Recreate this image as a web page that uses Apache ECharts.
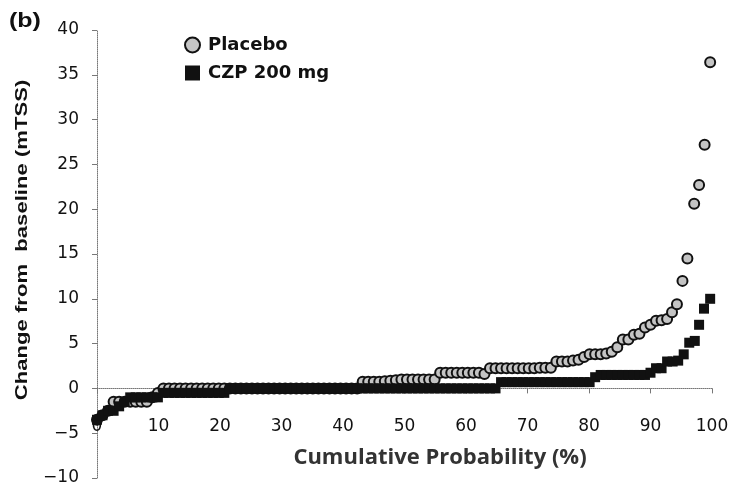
<!DOCTYPE html>
<html>
<head>
<meta charset="utf-8">
<style>html,body{margin:0;padding:0;background:#fff}#c{width:742px;height:487px}</style>
<script src="https://cdn.jsdelivr.net/npm/echarts@6/dist/echarts.min.js"></script>
</head>
<body>
<div id="c"></div>
<script>
// Cumulative probability (%) and change from baseline (mTSS)
var placeboX = [
  0,0.9,1.8,2.7,3.6,4.5,5.4,6.3,7.2,8.1,
  9.0,9.9,10.8,11.7,12.6,13.5,14.4,15.3,16.2,17.1,
  18.0,18.9,19.8,20.7,21.6,22.5,23.4,24.3,25.2,26.1,
  27.0,27.9,28.8,29.7,30.6,31.5,32.4,33.3,34.2,35.1,
  36.0,36.9,37.8,38.7,39.6,40.5,41.4,42.3,43.2,44.1,
  45.0,45.9,46.8,47.7,48.6,49.5,50.4,51.3,52.2,53.1,
  54.0,54.9,55.8,56.7,57.6,58.5,59.4,60.3,61.2,62.1,
  63.0,63.9,64.8,65.7,66.6,67.5,68.4,69.3,70.2,71.1,
  72.0,72.9,73.8,74.7,75.6,76.5,77.4,78.3,79.2,80.1,
  81.0,81.9,82.8,83.7,84.6,85.5,86.4,87.3,88.2,89.1,
  90.0,90.9,91.8,92.7,93.5,94.3,95.2,96.0,97.1,97.9,
  98.8,99.7];
var placeboY = [
  -3.5,-3.0,-2.5,-1.5,-1.5,-1.5,-1.5,-1.5,-1.5,-1.5,
  -1.0,-0.5,0,0,0,0,0,0,0,0,
  0,0,0,0,0,0,0,0,0,0,
  0,0,0,0,0,0,0,0,0,0,
  0,0,0,0,0,0,0,0,0.75,0.75,
  0.75,0.75,0.8,0.85,0.9,1.0,1.0,1.0,1.0,1.0,
  1.0,1.0,1.75,1.75,1.75,1.75,1.75,1.75,1.75,1.75,
  1.6,2.25,2.25,2.25,2.25,2.25,2.25,2.25,2.25,2.25,
  2.3,2.3,2.3,3.0,3.0,3.0,3.1,3.2,3.5,3.8,
  3.8,3.8,3.9,4.1,4.6,5.45,5.45,6.0,6.1,6.8,
  7.1,7.55,7.6,7.75,8.5,9.4,12.0,14.5,20.6,22.7,
  27.2,36.4];
var czpX = [
  0,0.9,1.8,2.7,3.6,4.5,5.4,6.3,7.2,8.1,
  9.0,9.9,10.8,11.7,12.6,13.5,14.4,15.3,16.2,17.1,
  18.0,18.9,19.8,20.7,21.6,22.5,23.4,24.3,25.2,26.1,
  27.0,27.9,28.8,29.7,30.6,31.5,32.4,33.3,34.2,35.1,
  36.0,36.9,37.8,38.7,39.6,40.5,41.4,42.3,43.2,44.1,
  45.0,45.9,46.8,47.7,48.6,49.5,50.4,51.3,52.2,53.1,
  54.0,54.9,55.8,56.7,57.6,58.5,59.4,60.3,61.2,62.1,
  63.0,63.9,64.8,65.7,66.6,67.5,68.4,69.3,70.2,71.1,
  72.0,72.9,73.8,74.7,75.6,76.5,77.4,78.3,79.2,80.1,
  81.0,81.9,82.8,83.7,84.6,85.5,86.4,87.3,88.2,89.1,
  90.0,90.9,91.8,92.7,93.6,94.5,95.4,96.3,97.2,97.9,
  98.7,99.7];
var czpY = [
  -3.5,-3.0,-2.5,-2.5,-2.0,-1.5,-1.0,-1.0,-1.0,-1.0,
  -1.0,-1.0,-0.5,-0.5,-0.5,-0.5,-0.5,-0.5,-0.5,-0.5,
  -0.5,-0.5,-0.5,-0.5,0,0,0,0,0,0,
  0,0,0,0,0,0,0,0,0,0,
  0,0,0,0,0,0,0,0,0,0,
  0,0,0,0,0,0,0,0,0,0,
  0,0,0,0,0,0,0,0,0,0,
  0,0,0,0.7,0.7,0.7,0.7,0.7,0.7,0.7,
  0.7,0.7,0.7,0.7,0.7,0.7,0.7,0.7,0.7,0.7,
  1.25,1.5,1.5,1.5,1.5,1.5,1.5,1.5,1.5,1.5,
  1.75,2.25,2.25,3.0,3.0,3.1,3.8,5.1,5.3,7.1,
  8.9,10.0];
var xTicks = [0,10,20,30,40,50,60,70,80,90,100];
var yTicks = [-10,-5,0,5,10,15,20,25,30,35,40];
var seriesNames = ['Placebo','CZP 200 mg'];

function pairs(xs, ys){ var out=[]; for (var i=0;i<xs.length;i++) out.push([xs[i], ys[i]]); return out; }
function fmt(v){ return v < 0 ? '\u2212' + (-v) : String(v); }

var chart = echarts.init(document.getElementById('c'), null, {renderer:'canvas'});
chart.setOption({
  animation: false,
  backgroundColor: '#fff',
  grid: {left: 97, right: 30, top: 30, bottom: 9, containLabel: false, outerBoundsMode: 'none'},
  xAxis: {
    type: 'value', min: xTicks[0], max: xTicks[xTicks.length-1], interval: 10,
    axisLine: {show: true, onZero: true, lineStyle: {color: '#777', type: 'dotted', width: 1}},
    axisTick: {show: true, inside: false, length: 5, lineStyle: {color: '#777'}},
    axisLabel: {margin: -60, showMinLabel: true, showMaxLabel: true, hideOverlap: false, color: '#111', fontFamily: 'DejaVu Sans', fontSize: 17, formatter: fmt},
    splitLine: {show: false}
  },
  yAxis: {
    type: 'value', min: yTicks[0], max: yTicks[yTicks.length-1], interval: 5,
    axisLine: {show: true, onZero: false, lineStyle: {color: '#777', type: 'dotted', width: 1}},
    axisTick: {show: true, inside: false, length: 5, lineStyle: {color: '#777'}},
    axisLabel: {margin: 18, showMinLabel: true, hideOverlap: false, color: '#111', fontFamily: 'DejaVu Sans', fontSize: 17, formatter: fmt},
    splitLine: {show: false}
  },
  legend: {
    orient: 'vertical', left: 184, top: 36, padding: 0, itemWidth: 15, itemHeight: 15, itemGap: 10,
    data: seriesNames,
    textStyle: {fontFamily: 'DejaVu Sans', fontWeight: 'bold', fontSize: 18, color: '#111', padding: [0,0,0,3]}
  },
  graphic: [
    {type: 'text', x: 9, y: 11, scaleX: 1.25, style: {text: '(b)', font: 'bold 20px "Liberation Sans"', fill: '#111'}},
    {type: 'text', x: 440, y: 458, style: {text: 'Cumulative Probability (%)', font: 'bold 22px "Open Sans"', fill: '#333', textAlign: 'center', textVerticalAlign: 'middle'}},
    {type: 'text', x: 22, y: 240, rotation: Math.PI/2, scaleX: 1.3, style: {text: 'Change from  baseline (mTSS)', font: 'bold 17px "Liberation Sans"', fill: '#111', textAlign: 'center', textVerticalAlign: 'middle'}}
  ],
  series: [
    {name: seriesNames[0], type: 'scatter', symbol: 'circle', symbolSize: 10, z: 2,
     itemStyle: {color: '#c4c4c4', borderColor: '#111', borderWidth: 2, opacity: 1},
     data: pairs(placeboX, placeboY)},
    {name: seriesNames[1], type: 'scatter', symbol: 'rect', symbolSize: 10, z: 3,
     itemStyle: {color: '#111', opacity: 1},
     data: pairs(czpX, czpY)}
  ]
});
</script>
</body>
</html>
